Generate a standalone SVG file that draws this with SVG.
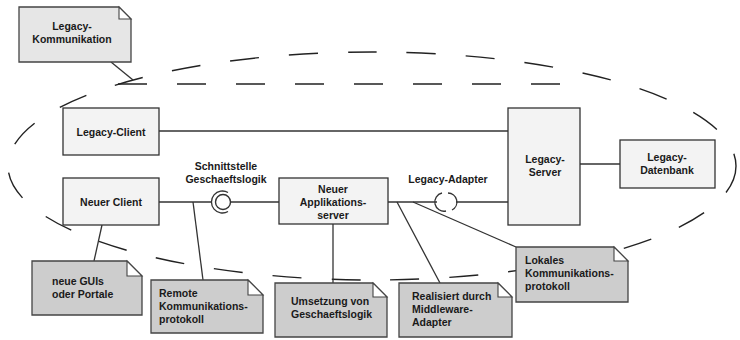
<svg xmlns="http://www.w3.org/2000/svg" width="740" height="340" viewBox="0 0 740 340">
<defs>
<style>
.box{fill:#f3f3f3;stroke:#333;stroke-width:1.3}
.note{fill:#cdcdcd;stroke:#444;stroke-width:1.3}
.note2{fill:#e6e6e6;stroke:#444;stroke-width:1.3}
.fold{fill:#fff;stroke:#444;stroke-width:1.1}
.ln{stroke:#333;stroke-width:1.3;fill:none}
.dash{stroke:#222;stroke-width:1.4;fill:none;stroke-dasharray:29 30}
text{font-family:"Liberation Sans",Arial,sans-serif;font-weight:bold;font-size:10.5px;fill:#1a1a1a}
.c{text-anchor:middle}
</style>
</defs>
<rect width="740" height="340" fill="#fff"/>
<g id="boundary">
<ellipse class="dash" cx="372" cy="166" rx="364" ry="114"/>
<line class="dash" x1="118" y1="84" x2="570" y2="84"/>
</g>
<g id="connectors">
<line class="ln" x1="159" y1="131" x2="508" y2="131"/>
<line class="ln" x1="159" y1="202" x2="212" y2="202"/>
<line class="ln" x1="231" y1="202" x2="279" y2="202"/>
<line class="ln" x1="388" y1="202" x2="437" y2="202"/>
<line class="ln" x1="456" y1="202" x2="508" y2="202"/>
<line class="ln" x1="580" y1="164" x2="620" y2="164"/>
<line class="ln" x1="111" y1="62" x2="133" y2="80"/>
<line class="ln" x1="102" y1="225" x2="94" y2="261"/>
<line class="ln" x1="193" y1="202" x2="203" y2="280"/>
<line class="ln" x1="333" y1="224" x2="333" y2="283"/>
<line class="ln" x1="397" y1="202" x2="440" y2="283"/>
<line class="ln" x1="413" y1="202" x2="516" y2="247"/>
</g>
<g id="schnittstelle">
<circle cx="223" cy="202" r="7.5" fill="#fff" stroke="#333" stroke-width="1.4"/>
<path class="ln" d="M228 211.5 A11 11 0 1 1 228 192.5" stroke-width="1.4"/>
<text class="c" x="226" y="170">Schnittstelle</text>
<text class="c" x="226" y="183">Geschaeftslogik</text>
</g>
<g id="legacy-adapter">
<path class="ln" d="M442 193 A9 9 0 0 0 446 211" stroke-width="1.4"/>
<path class="ln" d="M448 193 A9 9 0 0 1 452 210" stroke-width="1.4"/>
<text class="c" x="448" y="183">Legacy-Adapter</text>
</g>
<g id="legacy-kommunikation">
<path class="note2" d="M19 7 H119 L131 19 V62 H19 Z"/>
<path class="fold" d="M119 7 V19 H131 Z"/>
<text class="c" x="72" y="30">Legacy-</text>
<text class="c" x="72" y="43">Kommunikation</text>
</g>
<g id="legacy-client">
<rect class="box" x="63" y="108" width="96" height="47"/>
<text class="c" x="111" y="136">Legacy-Client</text>
</g>
<g id="neuer-client">
<rect class="box" x="63" y="178" width="96" height="47"/>
<text class="c" x="111" y="206">Neuer Client</text>
</g>
<g id="neuer-applikationsserver">
<rect class="box" x="279" y="178" width="109" height="46"/>
<text class="c" x="333" y="193">Neuer</text>
<text class="c" x="333" y="206">Applikations-</text>
<text class="c" x="333" y="219">server</text>
</g>
<g id="legacy-server">
<rect class="box" x="508" y="108" width="72" height="117"/>
<text class="c" x="545" y="163">Legacy-</text>
<text class="c" x="545" y="176">Server</text>
</g>
<g id="legacy-datenbank">
<rect class="box" x="620" y="140" width="95" height="48"/>
<text class="c" x="667" y="161">Legacy-</text>
<text class="c" x="667" y="174">Datenbank</text>
</g>
<g id="note-guis">
<path class="note" d="M32 261 H127 L142 276 V315 H32 Z"/>
<path class="fold" d="M127 261 V276 H142 Z"/>
<text x="52" y="285">neue GUIs</text>
<text x="52" y="298">oder Portale</text>
</g>
<g id="note-remote">
<path class="note" d="M151 280 H248 L263 295 V333 H151 Z"/>
<path class="fold" d="M248 280 V295 H263 Z"/>
<text x="159" y="297">Remote</text>
<text x="159" y="310">Kommunikations-</text>
<text x="159" y="323">protokoll</text>
</g>
<g id="note-umsetzung">
<path class="note" d="M275 283 H373 L387 297 V337 H275 Z"/>
<path class="fold" d="M373 283 V297 H387 Z"/>
<text x="291" y="305">Umsetzung von</text>
<text x="291" y="318">Geschaeftslogik</text>
</g>
<g id="note-realisiert">
<path class="note" d="M399 283 H498 L512 297 V337 H399 Z"/>
<path class="fold" d="M498 283 V297 H512 Z"/>
<text x="412" y="300">Realisiert durch</text>
<text x="412" y="313">Middleware-</text>
<text x="412" y="326">Adapter</text>
</g>
<g id="note-lokales">
<path class="note" d="M516 247 H614 L628 261 V302 H516 Z"/>
<path class="fold" d="M614 247 V261 H628 Z"/>
<text x="525" y="264">Lokales</text>
<text x="525" y="277">Kommunikations-</text>
<text x="525" y="290">protokoll</text>
</g>
</svg>
